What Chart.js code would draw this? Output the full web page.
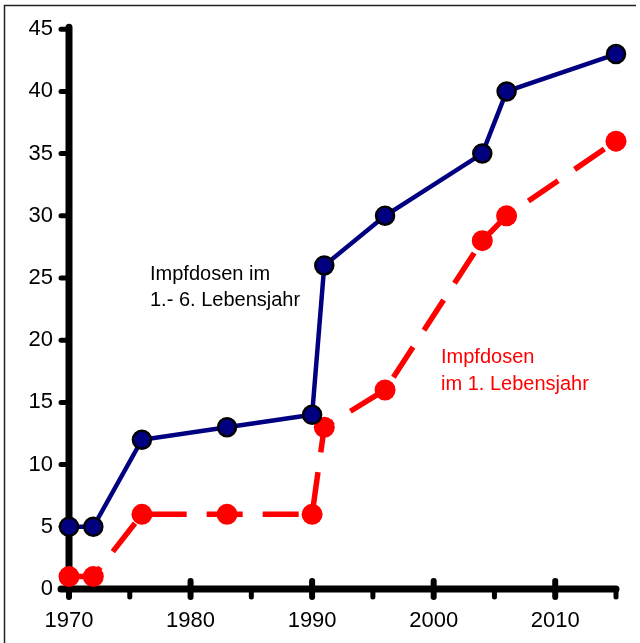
<!DOCTYPE html>
<html>
<head>
<meta charset="utf-8">
<script src="https://cdn.jsdelivr.net/npm/chart.js@4/dist/chart.umd.min.js"></script>
<style>
  html, body { margin: 0; padding: 0; background: #fff; }
  #wrap { position: relative; width: 640px; height: 643px; }
</style>
</head>
<body>
<div id="wrap"><canvas id="dosesChart" width="640" height="643"></canvas></div>
<script>
// years of the schedule changes
const years = [1970, 1972, 1976, 1983, 1990, 1991, 1996, 2004, 2006, 2015];
// doses up to age 6
const dosesSixYears = [5, 5, 12, 13, 14, 26, 30, 35, 40, 43];
// doses in the first year of life
const dosesFirstYear = [1, 1, 6, 6, 6, 13, 16, 28, 30, 36];

const yTicks = [0, 5, 10, 15, 20, 25, 30, 35, 40, 45];
const xTicks = [1970, 1975, 1980, 1985, 1990, 1995, 2000, 2005, 2010, 2015];

const labelSixYears = ['Impfdosen im', '1.- 6. Lebensjahr'];
const labelFirstYear = ['Impfdosen', 'im 1. Lebensjahr'];

const FONT = '"Liberation Sans", Arial, sans-serif';

// frame, thick axes and rounded tick marks like the original
const axesPlugin = {
    id: 'axesPlugin',
    beforeDraw: (chart) => {
        const ctx = chart.ctx;
        ctx.save();
        ctx.strokeStyle = '#222';
        ctx.lineWidth = 1.5;
        ctx.beginPath();
        ctx.moveTo(4.5, 650);
        ctx.lineTo(4.5, 5.5);
        ctx.lineTo(636, 5.5);
        ctx.stroke();
        ctx.restore();
    },
    beforeDatasetsDraw: (chart) => {
        const ctx = chart.ctx;
        const xs = chart.scales.x;
        const ys = chart.scales.y;
        const x0 = xs.getPixelForValue(xTicks[0]);
        const x1 = xs.getPixelForValue(xTicks[xTicks.length - 1]);
        const y0 = ys.getPixelForValue(0);
        const y1 = ys.getPixelForValue(45);

        ctx.save();
        ctx.strokeStyle = '#000';
        ctx.lineCap = 'round';

        // axis lines
        ctx.lineWidth = 7;
        ctx.beginPath();
        ctx.moveTo(x0, y1 - 2);
        ctx.lineTo(x0, y0);
        ctx.moveTo(x0 - 8, y0);
        ctx.lineTo(x1, y0);
        ctx.stroke();

        // y tick marks
        ctx.lineWidth = 5;
        yTicks.forEach(v => {
            const y = ys.getPixelForValue(v);
            ctx.beginPath();
            ctx.moveTo(x0 - 8, y);
            ctx.lineTo(x0, y);
            ctx.stroke();
        });

        // x tick marks: major across the axis, minor below
        xTicks.forEach(v => {
            const x = xs.getPixelForValue(v);
            const major = v % 10 === 0;
            ctx.lineWidth = major ? 6 : 5;
            ctx.beginPath();
            ctx.moveTo(x, major ? y0 - 8 : y0);
            ctx.lineTo(x, y0 + 8);
            ctx.stroke();
        });
        ctx.restore();
    },
    afterDatasetsDraw: (chart) => {
        const ctx = chart.ctx;
        ctx.save();
        ctx.font = '20px ' + FONT;
        ctx.textBaseline = 'alphabetic';
        ctx.fillStyle = '#000';
        labelSixYears.forEach((t, i) => ctx.fillText(t, 150, 280 + i * 26));
        ctx.fillStyle = '#ff0000';
        labelFirstYear.forEach((t, i) => ctx.fillText(t, 441, 363 + i * 27));
        ctx.restore();
    }
};

new Chart(document.getElementById('dosesChart').getContext('2d'), {
    type: 'line',
    data: {
        labels: years,
        datasets: [
            {
                label: 'Impfdosen im 1.- 6. Lebensjahr',
                data: years.map((y, i) => ({ x: y, y: dosesSixYears[i] })),
                borderColor: '#000080',
                borderWidth: 4.5,
                pointRadius: 9,
                pointBackgroundColor: '#000080',
                pointBorderColor: '#000',
                pointBorderWidth: 2.5,
                tension: 0,
                clip: false
            },
            {
                label: 'Impfdosen im 1. Lebensjahr',
                data: years.map((y, i) => ({ x: y, y: dosesFirstYear[i] })),
                borderColor: '#ff0000',
                borderWidth: 5.5,
                borderDash: [36, 20],
                borderDashOffset: 0,
                borderCapStyle: 'butt',
                pointRadius: 10.5,
                pointBackgroundColor: '#ff0000',
                pointBorderWidth: 0,
                tension: 0,
                clip: false
            }
        ]
    },
    options: {
        responsive: false,
        animation: false,
        layout: { padding: { left: 0, top: 25, right: 24, bottom: 0 } },
        plugins: {
            legend: { display: false },
            tooltip: { enabled: false }
        },
        scales: {
            x: {
                type: 'linear',
                min: 1970,
                max: 2015,
                grid: { display: false, drawTicks: false },
                border: { display: false },
                afterFit: (s) => { s.height = 54; },
                afterBuildTicks: (s) => { s.ticks = xTicks.filter(v => v % 10 === 0).map(v => ({ value: v })); },
                ticks: {
                    autoSkip: false,
                    maxRotation: 0,
                    padding: 19,
                    color: '#000',
                    font: { family: FONT, size: 22 },
                    callback: (v) => String(v)
                }
            },
            y: {
                min: 0,
                max: 45,
                grid: { display: false, drawTicks: false },
                border: { display: false },
                afterFit: (s) => { s.width = 69; },
                afterBuildTicks: (s) => { s.ticks = yTicks.map(v => ({ value: v })); },
                ticks: {
                    padding: 16,
                    color: '#000',
                    font: { family: FONT, size: 22 }
                }
            }
        }
    },
    plugins: [axesPlugin]
});
</script>
</body>
</html>
